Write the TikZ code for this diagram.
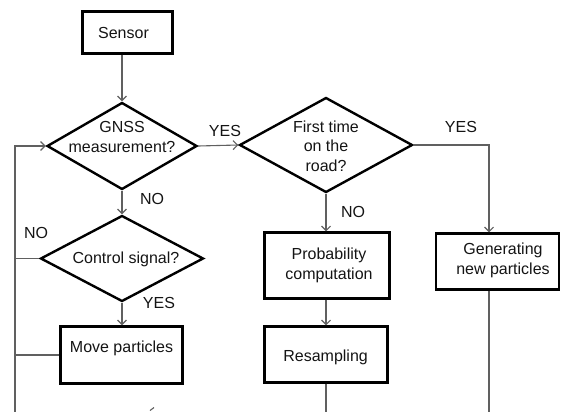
\documentclass[tikz,border=0pt]{standalone}
\usepackage{fontspec}
\setmainfont{Liberation Sans}
\usetikzlibrary{shapes.geometric,arrows.meta}
\definecolor{conn}{HTML}{606060}
\definecolor{ink}{HTML}{141414}
\begin{document}
\begin{tikzpicture}[x=1pt,y=-1pt,
  font=\fontsize{16}{19.5}\selectfont,
  stepbox/.style={draw=black,line width=2.4pt,rectangle,inner sep=0pt},
  decision/.style={draw=black,line width=2.4pt,diamond,inner sep=0pt},
  txt/.style={text=ink,align=center,inner sep=0pt},
  lbl/.style={text=ink,inner sep=0pt},
  conline/.style={draw=conn,line width=1.1pt},
  arr/.style={conline,-{Straight Barb[length=4.5pt,width=9pt,line width=1.1pt]}}]
\useasboundingbox (0,0) rectangle (562,412);
% shapes
\node[stepbox,minimum width=90pt,minimum height=42pt] (sensor) at (127.5,32.5) {};
\node[decision,minimum width=150pt,minimum height=87pt] (gnss) at (122,146) {};
\node[decision,minimum width=173pt,minimum height=95pt] (first) at (326,145) {};
\node[decision,minimum width=163pt,minimum height=86pt] (ctrl) at (122,258.5) {};
\node[stepbox,minimum width=122pt,minimum height=57pt] (move) at (121.5,355) {};
\node[stepbox,minimum width=125pt,minimum height=66pt] (prob) at (327,265.5) {};
\node[stepbox,minimum width=123pt,minimum height=56pt] (resamp) at (326,354.5) {};
\node[stepbox,minimum width=123pt,minimum height=56pt] (gen) at (497.5,261.5) {};
% texts
\node[txt] (tsensor) at (123.5,33) {Sensor};
\node[txt] (tgnss) at (122,137) {GNSS\\measurement?};
\node[txt] (tfirst) at (326,146) {First time\\on the\\road?};
\node[txt] (tctrl) at (126,259) {Control signal?};
\node[txt] (tmove) at (121.5,348) {Move particles};
\node[txt] (tprob) at (329,265.5) {Probability\\computation};
\node[txt] (tres) at (325.6,357) {Resampling};
\node[txt] (tgen) at (503,260.5) {Generating\\new particles};
% labels
\node[lbl] (l1) at (225,131) {YES};
\node[lbl] (l2) at (152,199) {NO};
\node[lbl] (l3) at (461,126.5) {YES};
\node[lbl] (l4) at (353,212) {NO};
\node[lbl] (l5) at (36,233) {NO};
\node[lbl] (l6) at (159,303) {YES};
% helper coordinates
\coordinate (loopTop) at (15,146);
\coordinate (loopBot) at (15,412);
\coordinate (corner) at (489,145);
\coordinate (resEnd) at (326,412);
\coordinate (genEnd) at (489,412);
% connectors
\draw[arr] (gnss.north |- sensor.south) -- (gnss.north);
\draw[arr] (gnss.south) -- (ctrl.north);
\draw[arr] (gnss.east) -- (first.west);
\draw[arr] (first.east) -- (corner) -- (gen.north -| corner);
\draw[arr] (first.south) -- (first.south |- prob.north);
\draw[arr] (prob.south -| first.south) -- (resamp.north -| first.south);
\draw[conline] (resamp.south -| first.south) -- (resEnd);
\draw[conline] (gen.south -| corner) -- (genEnd);
\draw[arr] (ctrl.south) -- (move.north -| ctrl.south);
\draw[conline] (ctrl.west) -- (ctrl.west -| loopTop);
\draw[conline] (move.west) -- (move.west -| loopTop);
\draw[arr] (loopBot) -- (loopTop) -- (gnss.west);
% fragment at the cut edge
\coordinate (fragA) at (150,410.5);
\coordinate (fragB) at (154,407.5);
\draw[conline] (fragA) -- (fragB);
\end{tikzpicture}
\end{document}
